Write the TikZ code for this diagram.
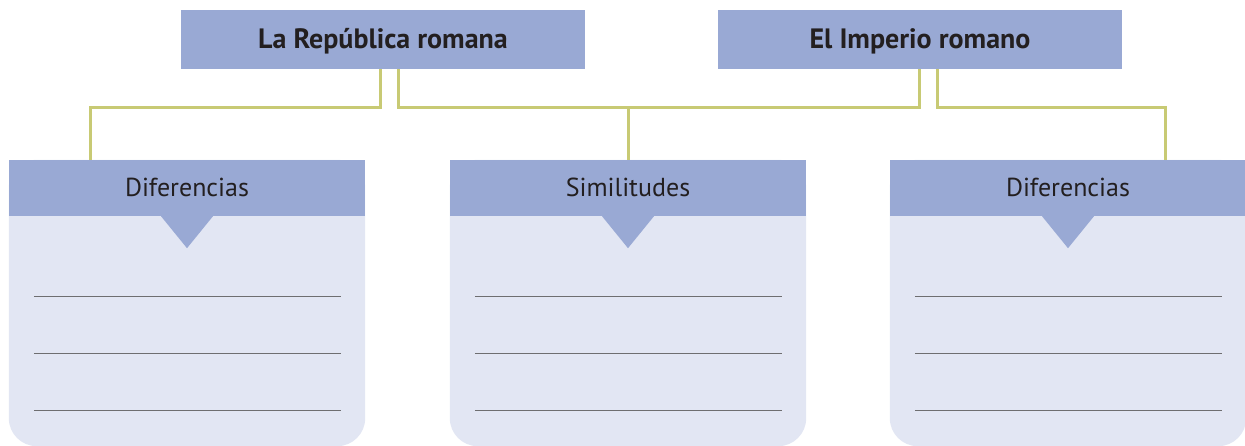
\documentclass[tikz,border=0pt]{standalone}
\usepackage{fontspec}
\setmainfont{PT Sans}
\usetikzlibrary{calc}
\pgfdeclarelayer{background}
\pgfsetlayers{background,main}
\definecolor{hdr}{HTML}{99A9D4}
\definecolor{bodyc}{HTML}{E2E6F3}
\definecolor{conn}{HTML}{C8CA74}
\definecolor{rulec}{HTML}{6E6E70}
\definecolor{txt}{HTML}{231F20}
\begin{document}
\begin{tikzpicture}[x=1pt,y=-1pt,
  topbox/.style={fill=hdr, minimum width=404pt, minimum height=59pt, inner sep=0pt, text height=19pt, text depth=0pt, text=txt, font=\fontsize{28}{32}\selectfont\bfseries},
  headbox/.style={fill=hdr, minimum width=356pt, minimum height=56pt, inner sep=0pt, text height=18pt, text depth=0pt, text=txt, font=\fontsize{26}{30}\selectfont},
  link/.style={draw=conn, line width=3pt},
  rulel/.style={draw=rulec, line width=1.2pt},
  bodyfill/.style={fill=bodyc, rounded corners=28pt}]
\useasboundingbox (0,0) rectangle (1245,446);
\coordinate (hy) at (0,108);
\node[topbox] (rep) at (383,39.5) {La República romana};
\node[topbox] (imp) at (920,39.5) {El Imperio romano};
\foreach \n/\cx/\t in {d1/187/Diferencias, s/628/Similitudes, d3/1068/Diferencias}{
  \node[headbox] (\n) at (\cx,188) {\t};
  \begin{pgfonlayer}{background}
    \fill[bodyfill] (\n.north west) rectangle ($(\n.south east)+(0,230)$);
  \end{pgfonlayer}
  \fill[hdr] ($(\n.south)+(-26,0)$) -- ($(\n.south)+(26,0)$) -- ($(\n.south)+(0,32)$) -- cycle;
  \foreach \dy in {80,137,194}{
    \draw[rulel] ($(\n.south west)+(25,\dy)$) -- ($(\n.south east)+(-24,\dy)$);
  }
}
\draw[link] ([xshift=-3pt]rep.south) |- ([xshift=-97pt]d1.north |- hy) -- ([xshift=-97pt]d1.north);
\draw[link] ([xshift=15pt]rep.south) |- ([xshift=-1pt]imp.south |- hy) -- ([xshift=-1pt]imp.south);
\draw[link] (s.north |- hy) -- (s.north);
\draw[link] ([xshift=17pt]imp.south) |- ([xshift=97pt]d3.north |- hy) -- ([xshift=97pt]d3.north);
\end{tikzpicture}
\end{document}
